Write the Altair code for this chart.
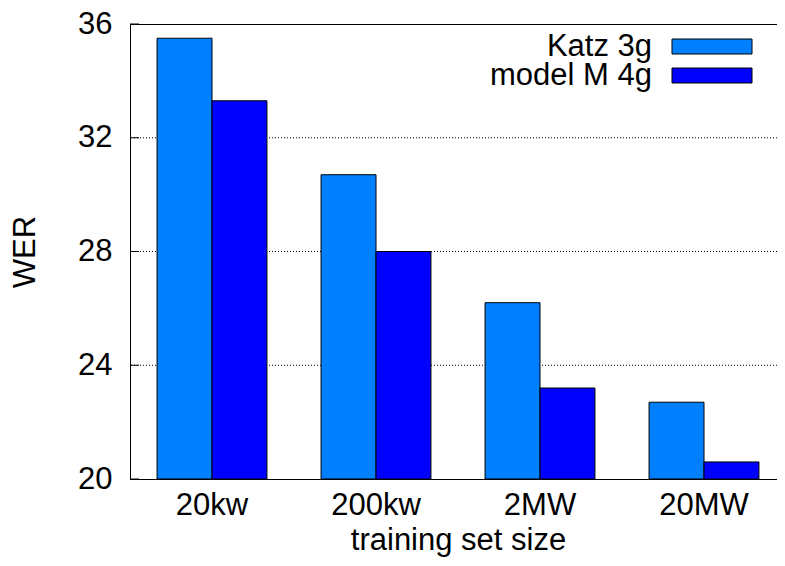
import altair as alt
import pandas as pd

sizes = ["20kw", "200kw", "2MW", "20MW"]
series = ["Katz 3g", "model M 4g"]
katz = [35.5, 30.7, 26.2, 22.7]
modelm = [33.3, 28.0, 23.2, 20.6]
y_ticks = [20, 24, 28, 32, 36]
grid_vals = [24, 28, 32]
colors = ["#0080ff", "#0000ff"]

rows = []
for i, s in enumerate(sizes):
    rows.append({"size": s, "model": series[0], "wer": katz[i]})
    rows.append({"size": s, "model": series[1], "wer": modelm[i]})
df = pd.DataFrame(rows)
gdf = pd.DataFrame({"wer": grid_vals})
tdf = pd.DataFrame({"wer": y_ticks})
ldf = pd.DataFrame({"model": series})

FONT = "Liberation Sans"
W, H = 656, 455
YMIN, YMAX = 20, 36
yscale = alt.Scale(domain=[YMIN, YMAX], nice=False, zero=False)
cscale = alt.Scale(domain=series, range=colors)
yaxis = alt.Axis(title="WER", values=y_ticks, ticks=False, grid=False,
                 labelPadding=18, titlePadding=36)


def yenc():
    return alt.Y("wer:Q", scale=yscale, axis=yaxis, title="WER")


grid = alt.Chart(gdf).mark_rule(color="black", strokeWidth=1, strokeDash=[1, 2]).encode(
    y=yenc()
)
tick_l = alt.Chart(tdf).mark_rule(color="black", strokeWidth=1).encode(
    y=yenc(), x=alt.value(0), x2=alt.value(9)
)
tick_r = alt.Chart(tdf).mark_rule(color="black", strokeWidth=1).encode(
    y=yenc(), x=alt.value(W - 9), x2=alt.value(W)
)

bars = alt.Chart(df).mark_bar(stroke="black", strokeWidth=1, opacity=1).encode(
    x=alt.X(
        "size:N", sort=sizes,
        scale=alt.Scale(paddingInner=0.33, paddingOuter=0.165),
        axis=alt.Axis(title="training set size", labelAngle=0, ticks=False,
                      domain=True, labelPadding=11, titlePadding=5),
    ),
    xOffset=alt.XOffset("model:N", sort=series, scale=alt.Scale(paddingInner=0, paddingOuter=0)),
    y=yenc(),
    y2=alt.datum(YMIN),
    color=alt.Color("model:N", sort=series, scale=cscale, legend=None),
)

main = alt.layer(grid, bars, tick_l, tick_r)

ly = alt.Y("model:N", sort=series,
           scale=alt.Scale(type="point", domain=series, range=[22.5, 51.5], padding=0),
           axis=None)
leg_sym = alt.Chart(ldf).mark_point(
    shape="M-1,-0.1875H1V0.1875H-1Z", size=6400, filled=True,
    stroke="black", strokeWidth=1, opacity=1,
).encode(
    x=alt.value(582), y=ly,
    color=alt.Color("model:N", sort=series, scale=cscale, legend=None),
)
leg_txt = alt.Chart(ldf).mark_text(
    align="right", baseline="middle", font=FONT, fontSize=31, color="black",
).encode(
    x=alt.value(522), y=ly, text="model:N",
)
legend = alt.layer(leg_sym, leg_txt)

chart = alt.layer(main, legend).resolve_scale(y="independent").properties(
    width=W, height=H,
    background="white",
    autosize=alt.AutoSizeParams(type="none"),
    padding={"left": 122, "top": 16, "right": -9, "bottom": 78},
).configure_view(
    stroke="black", strokeWidth=1
).configure_axis(
    labelFont=FONT, titleFont=FONT, labelFontSize=31, titleFontSize=31,
    labelColor="black", titleColor="black", titleFontWeight="normal",
    domainColor="black", domainWidth=1,
)

chart.save("out.html", embed_options={"renderer": "svg", "actions": False})
